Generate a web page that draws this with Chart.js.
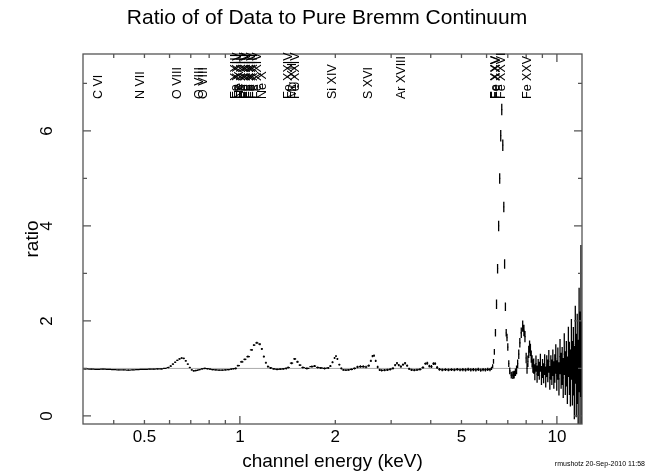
<!DOCTYPE html>
<html>
<head>
<meta charset="utf-8">
<script src="https://cdn.jsdelivr.net/npm/chart.js@4.4.1/dist/chart.umd.min.js"></script>
<style>
  html, body { margin: 0; padding: 0; background: #fff; }
</style>
</head>
<body>
<canvas id="ratioChart" width="658" height="476"></canvas>
<script>
// channel energies (keV), one row per region of the spectrum
const energy = [
  0.325,0.34,0.355,0.37,0.385,0.40,0.415,0.43,0.445,0.46,0.475,0.49,0.505,0.52,0.535,0.55,0.565,0.58,
  0.595,0.605,0.615,0.625,0.635,0.645,0.655,0.665,0.675,0.685,0.695,0.705,0.715,0.725,
  0.735,0.745,0.76,0.775,0.79,0.805,0.82,0.84,0.86,0.88,0.90,0.92,0.94,0.955,
  0.97,0.986,1.015,1.037,1.06,1.091,1.107,1.131,1.156,1.173,1.19,1.208,1.226,1.25,
  1.28,1.31,1.34,1.37,1.40,1.42,1.456,1.49,1.52,1.546,1.58,1.627,1.687,1.72,1.76,
  1.80,1.85,1.90,1.93,1.96,1.99,2.01,2.03,2.06,2.09,2.12,2.16,2.20,2.25,2.30,
  2.35,2.40,2.45,2.50,2.55,2.59,2.62,2.65,2.68,2.72,2.76,2.80,2.86,2.92,2.98,
  3.04,3.09,3.13,3.17,3.22,3.27,3.32,3.37,3.42,3.48,3.55,3.62,3.70,3.78,3.85,
  3.90,3.96,4.02,4.08,4.13,4.19,4.26,4.35,4.45,4.55,4.65,4.75,4.85,4.95,
  5.05,5.15,5.25,5.35,5.45,5.55,5.65,5.75,5.85,5.95,6.05,6.15,6.22,
  6.27,6.31,6.35,6.40,6.45,6.50,6.55,6.60,6.65,6.70,6.75,6.80,6.84,6.88,6.92,6.96,7.00,7.05,7.10,7.18,
  7.26,7.33,7.40,7.46,7.52,7.58,7.64,7.72,7.80,7.87,7.93,8.00,8.05,8.10,8.15,8.20,8.25,8.30,8.35,8.40,
  8.45,8.52,8.59,8.66,8.73,8.80,8.87,8.94,9.01,9.08,9.15,9.22,9.29,9.36,9.43,9.50,9.57,9.64,9.71,9.78,
  9.85,9.92,9.99,10.07,10.15,10.23,10.31,10.39,10.47,10.55,10.63,10.71,10.79,10.87,10.95,11.03,11.11,11.19,
  11.27,11.35,11.43,11.51,11.59,11.67,11.75,11.83,11.91,11.98
];
const ratio = [
  0.99,0.985,0.98,0.985,0.98,0.975,0.97,0.97,0.965,0.97,0.975,0.98,0.98,0.985,0.985,0.99,0.99,1.0,
  1.02,1.05,1.09,1.13,1.17,1.2,1.22,1.21,1.16,1.09,1.02,0.97,0.95,0.955,
  0.96,0.975,0.99,1.0,0.995,0.985,0.975,0.97,0.965,0.965,0.97,0.975,0.985,0.995,
  1.0,1.06,1.14,1.19,1.25,1.39,1.49,1.54,1.51,1.41,1.25,1.12,1.04,1.01,
  0.99,0.98,0.985,0.99,1.0,1.02,1.11,1.2,1.14,1.07,1.02,1.0,1.04,1.05,1.02,
  1.01,1.0,1.01,1.05,1.13,1.22,1.26,1.2,1.08,1.0,0.97,0.965,0.97,0.98,1.0,
  1.03,1.04,1.04,1.03,1.06,1.16,1.26,1.27,1.16,1.03,0.97,0.96,0.965,0.97,0.98,
  1.0,1.07,1.11,1.07,1.04,1.08,1.11,1.06,0.99,0.97,0.965,0.97,0.98,1.02,1.1,
  1.11,1.05,1.04,1.1,1.1,1.02,0.98,0.97,0.975,0.97,0.975,0.97,0.98,0.97,
  0.975,0.97,0.98,0.97,0.975,0.97,0.98,0.965,0.975,0.97,0.98,0.975,1.0,
  1.05,1.15,1.35,1.75,2.35,3.1,4.0,5.0,5.9,6.45,5.7,4.4,3.2,2.3,1.75,1.65,1.45,1.1,0.95,0.86,
  0.86,0.87,0.92,0.97,1.1,1.3,1.54,1.75,1.89,1.8,1.67,1.22,1.0,1.15,1.35,1.46,1.39,1.25,1.15,1.05,
  1.05,0.92,1.10,0.88,1.02,0.95,1.12,0.85,1.0,0.9,1.08,0.82,1.05,0.95,1.15,0.8,1.02,0.92,1.12,0.86,
  1.0,1.2,0.85,1.1,0.78,1.25,0.95,1.05,0.8,1.3,0.9,1.1,0.75,1.35,1.0,0.8,1.4,0.9,
  1.15,0.7,1.5,0.85,1.2,0.6,1.6,1.0,2.0,0.9
];
const ratioErr = [
  0.01,0.01,0.01,0.01,0.01,0.01,0.01,0.01,0.01,0.01,0.01,0.01,0.01,0.01,0.01,0.01,0.01,0.01,
  0.015,0.015,0.015,0.015,0.015,0.015,0.015,0.015,0.015,0.015,0.015,0.015,0.015,0.015,
  0.015,0.015,0.015,0.015,0.015,0.015,0.015,0.015,0.015,0.015,0.015,0.015,0.015,0.015,
  0.02,0.02,0.02,0.02,0.02,0.02,0.02,0.02,0.02,0.02,0.02,0.02,0.02,0.02,
  0.02,0.02,0.02,0.02,0.02,0.02,0.02,0.02,0.02,0.02,0.02,0.02,0.02,0.02,0.02,
  0.02,0.02,0.02,0.02,0.02,0.02,0.02,0.02,0.02,0.02,0.02,0.02,0.02,0.02,0.02,
  0.025,0.025,0.025,0.025,0.025,0.025,0.025,0.025,0.025,0.025,0.025,0.025,0.025,0.025,0.025,
  0.025,0.025,0.025,0.025,0.025,0.025,0.025,0.025,0.025,0.025,0.025,0.025,0.025,0.025,0.025,
  0.03,0.03,0.03,0.03,0.03,0.03,0.03,0.03,0.03,0.03,0.03,0.03,0.03,0.03,
  0.035,0.035,0.035,0.035,0.035,0.035,0.035,0.035,0.035,0.035,0.035,0.035,0.035,
  0.04,0.05,0.06,0.08,0.1,0.1,0.11,0.11,0.12,0.12,0.12,0.11,0.1,0.09,0.08,0.08,0.08,0.07,0.07,0.07,
  0.08,0.08,0.08,0.09,0.09,0.1,0.1,0.11,0.12,0.12,0.12,0.11,0.11,0.12,0.13,0.13,0.13,0.13,0.13,0.14,
  0.16,0.17,0.17,0.18,0.18,0.19,0.19,0.2,0.2,0.21,0.22,0.22,0.23,0.24,0.24,0.25,0.26,0.27,0.28,0.29,
  0.3,0.31,0.32,0.34,0.35,0.37,0.38,0.4,0.42,0.44,0.46,0.48,0.5,0.53,0.56,0.6,0.64,0.68,
  0.72,0.77,0.82,0.88,0.95,1.0,1.1,1.2,1.6,1.1
];

// pure bremsstrahlung model = 1
const modelEnergy = [0.32, 12];
const modelRatio = [1, 1];

const xTicks = [0.4, 0.5, 0.6, 0.7, 0.8, 0.9, 1, 2, 3, 4, 5, 6, 7, 8, 9, 10];
const xLabelled = [0.5, 1, 2, 5, 10];
const xMajor = [1, 10];
const yTicks = [0, 1, 2, 3, 4, 5, 6, 7];
const yLabelled = [0, 2, 4, 6];

// line identifications
const lineNames = ['C VI', 'N VII', 'O VIII', 'O VIII', 'O VIII',
  'Fe XXIII', 'Fe XXIV', 'Ne X', 'Fe XXIII', 'Fe XXIV', 'Fe XXIV', 'Fe XXIII', 'Fe XXIV', 'Fe XXIII', 'Fe XXIV', 'Ne X',
  'Fe XXIV', 'Mg XII', 'Fe XXIV', 'Si XIV', 'S XVI', 'Ar XVIII',
  'Fe XXV', 'Fe XXV', 'Fe XXVI', 'Fe XXV'];
const lineEnergies = [0.367, 0.500, 0.653, 0.765, 0.786,
  0.995, 1.01, 1.022, 1.04, 1.06, 1.08, 1.10, 1.12, 1.13, 1.17, 1.211,
  1.46, 1.50, 1.54, 2.006, 2.62, 3.32,
  6.56, 6.60, 6.86, 8.26];

const font = '"Liberation Sans", Arial, Helvetica, sans-serif';

// each channel drawn as a cross: bin width across, error bar up/down
const binBars = [];
const errBars = [];
energy.forEach((e, i) => {
  const lo = i > 0 ? (energy[i - 1] + e) / 2 : e - (energy[1] - e) / 2;
  const hi = i < energy.length - 1 ? (e + energy[i + 1]) / 2 : e + (e - energy[i - 1]) / 2;
  binBars.push({x: lo, y: ratio[i]}, {x: hi, y: ratio[i]}, {x: hi, y: null});
  errBars.push({x: e, y: ratio[i] - ratioErr[i]}, {x: e, y: ratio[i] + ratioErr[i]}, {x: e, y: null});
});
const modelLine = modelEnergy.map((e, i) => ({x: e, y: modelRatio[i]}));

const framePlugin = {
  id: 'frame',
  afterDatasetsDraw(chart) {
    const {ctx, chartArea: {left, right, top, bottom}, scales: {x, y}} = chart;
    ctx.save();
    ctx.strokeStyle = '#555';
    ctx.lineWidth = 1.3;
    ctx.strokeRect(left, top, right - left, bottom - top);
    ctx.beginPath();
    x.ticks.forEach(t => {
      const px = x.getPixelForValue(t.value);
      const len = xMajor.includes(t.value) ? 8 : 4;
      ctx.moveTo(px, bottom); ctx.lineTo(px, bottom - len);
      ctx.moveTo(px, top); ctx.lineTo(px, top + len);
    });
    y.ticks.forEach(t => {
      const py = y.getPixelForValue(t.value);
      const len = yLabelled.includes(t.value) ? 8 : 4;
      ctx.moveTo(left, py); ctx.lineTo(left + len, py);
      ctx.moveTo(right, py); ctx.lineTo(right - len, py);
    });
    ctx.stroke();

    ctx.fillStyle = '#000';
    ctx.font = '12.5px ' + font;
    ctx.textAlign = 'left';
    ctx.textBaseline = 'alphabetic';
    lineNames.forEach((name, i) => {
      const px = x.getPixelForValue(lineEnergies[i]);
      ctx.save();
      ctx.translate(px, top + 45);
      ctx.rotate(-Math.PI / 2);
      ctx.fillText(name, 0, 0);
      ctx.restore();
    });

    // plot title
    ctx.font = '21px ' + font;
    ctx.textAlign = 'center';
    ctx.textBaseline = 'middle';
    ctx.fillText('Ratio of of Data to Pure Bremm Continuum', 327, 18);

    ctx.font = '7px ' + font;
    ctx.textAlign = 'right';
    ctx.textBaseline = 'alphabetic';
    ctx.fillText('rmushotz 20-Sep-2010 11:58', 645, 466);
    ctx.restore();
  }
};

new Chart(document.getElementById('ratioChart'), {
  type: 'scatter',
  data: {
    datasets: [
      { data: errBars, showLine: true, spanGaps: false, borderColor: '#000', borderWidth: 1.3, pointRadius: 0 },
      { data: binBars, showLine: true, spanGaps: false, borderColor: '#000', borderWidth: 1.2, pointRadius: 0 },
      { data: modelLine, showLine: true, borderColor: '#aaa', borderWidth: 1, pointRadius: 0 }
    ]
  },
  options: {
    responsive: false,
    animation: false,
    layout: { padding: { left: 0, right: 76, top: 54, bottom: 0 } },
    plugins: {
      legend: { display: false },
      tooltip: { enabled: false },
      title: { display: false }
    },
    scales: {
      x: {
        type: 'logarithmic',
        bounds: 'data',
        min: 0.32,
        max: 12,
        grid: { display: false, drawTicks: false },
        border: { display: false },
        afterBuildTicks: s => { s.ticks = xTicks.map(v => ({ value: v })); },
        afterFit: s => { s.height = 52; },
        ticks: {
          autoSkip: false, maxRotation: 0, padding: 3, color: '#000',
          font: { family: font, size: 17 },
          callback: v => xLabelled.includes(v) ? String(v) : ''
        },
        title: {
          display: true, text: 'channel energy (keV)', color: '#000',
          font: { family: font, size: 19 }, padding: { top: 0, bottom: 3 }
        }
      },
      y: {
        bounds: 'data',
        min: -0.17,
        max: 7.62,
        grid: { display: false, drawTicks: false },
        border: { display: false },
        afterBuildTicks: s => { s.ticks = yTicks.map(v => ({ value: v })); },
        afterFit: s => { s.width = 83; },
        ticks: {
          autoSkip: false, minRotation: 90, maxRotation: 90, crossAlign: 'center', padding: 31,
          color: '#000', font: { family: font, size: 17 },
          callback: v => yLabelled.includes(v) ? String(v) : ''
        },
        title: {
          display: true, text: 'ratio', color: '#000',
          font: { family: font, size: 19 }, padding: { top: 21, bottom: 0 }
        }
      }
    }
  },
  plugins: [framePlugin]
});
</script>
</body>
</html>
